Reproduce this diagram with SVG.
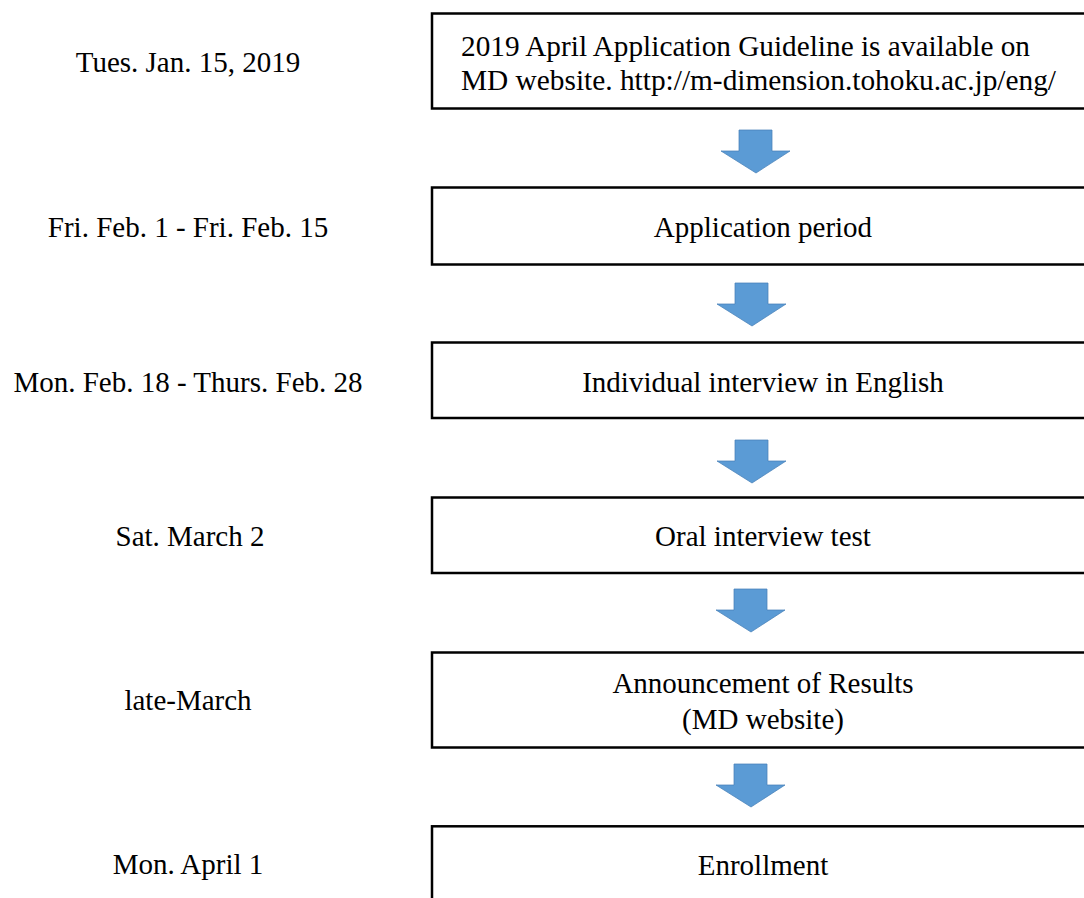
<svg xmlns="http://www.w3.org/2000/svg" width="1084" height="898" viewBox="0 0 1084 898">
<style>
text{font-family:"Liberation Serif","Times New Roman",serif;font-size:29px;fill:#000}
.c{text-anchor:middle}
.box{fill:#fff;stroke:#000;stroke-width:2.5}
.arr{fill:#5B9BD5;stroke:#4A82B8;stroke-width:0.75}
</style>
<defs>
<path id="down" d="M-17,0 H16 V21 H34 L0,43 L-35,21 H-17 Z"/>
</defs>
<rect width="1084" height="898" fill="#fff"/>
<g id="n1">
<text class="c" x="188" y="72">Tues. Jan. 15, 2019</text>
<rect class="box" x="432" y="13.5" width="680" height="95"/>
<text x="461" y="56" textLength="569" lengthAdjust="spacingAndGlyphs">2019 April Application Guideline is available on</text>
<text x="461" y="90" textLength="595" lengthAdjust="spacingAndGlyphs">MD website. http://m-dimension.tohoku.ac.jp/eng/</text>
</g>
<g id="n2">
<text class="c" x="188" y="237">Fri. Feb. 1 - Fri. Feb. 15</text>
<rect class="box" x="432" y="187.5" width="680" height="77"/>
<text class="c" x="763" y="237">Application period</text>
</g>
<g id="n3">
<text class="c" x="188" y="392">Mon. Feb. 18 - Thurs. Feb. 28</text>
<rect class="box" x="432" y="342.5" width="680" height="75.5"/>
<text class="c" x="763" y="392">Individual interview in English</text>
</g>
<g id="n4">
<text class="c" x="190" y="546">Sat. March 2</text>
<rect class="box" x="432" y="497.5" width="680" height="75.5"/>
<text class="c" x="763" y="546">Oral interview test</text>
</g>
<g id="n5">
<text class="c" x="188" y="710">late-March</text>
<rect class="box" x="432" y="652.5" width="680" height="95"/>
<text class="c" x="763" y="693">Announcement of Results</text>
<text class="c" x="763" y="729">(MD website)</text>
</g>
<g id="n6">
<text class="c" x="188" y="874">Mon. April 1</text>
<rect class="box" x="432" y="826.3" width="680" height="100"/>
<text class="c" x="763" y="875">Enrollment</text>
</g>
<g id="connectors">
<use href="#down" class="arr" x="756" y="130"/>
<use href="#down" class="arr" x="752" y="283"/>
<use href="#down" class="arr" x="752" y="440"/>
<use href="#down" class="arr" x="751" y="589"/>
<use href="#down" class="arr" x="751" y="764"/>
</g>
</svg>
